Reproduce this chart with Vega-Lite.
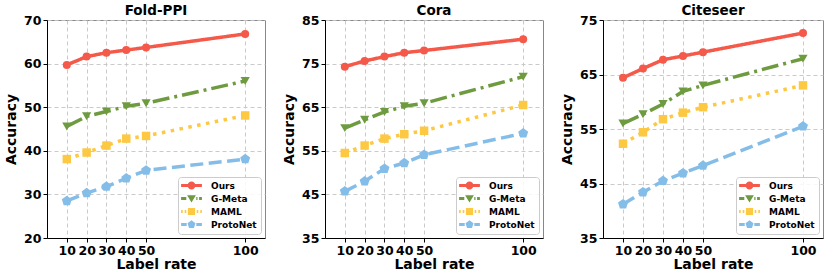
{
  "$schema": "https://vega.github.io/schema/vega-lite/v6.json",
  "background": "white",
  "padding": {"left": 4, "top": 3, "right": 4, "bottom": 2},
  "spacing": 60,
  "bounds": "flush",
  "config": {
    "font": "DejaVu Sans",
    "view": {"stroke": "#888888", "strokeWidth": 1},
    "axis": {
      "labelFont": "DejaVu Sans", "labelFontWeight": "bold", "labelFontSize": 12.5, "labelColor": "#000000",
      "titleFont": "DejaVu Sans", "titleFontWeight": "bold", "titleFontSize": 14, "titleColor": "#000000",
      "domainColor": "#000000", "tickColor": "#000000", "tickSize": 4, "labelPadding": 2,
      "grid": true, "gridDash": [4, 3], "gridColor": "#c4c4c4", "gridWidth": 0.9
    },
    "title": {"font": "DejaVu Sans", "fontSize": 13.5, "fontWeight": "bold", "color": "#000000", "offset": -3},
    "legend": {
      "orient": "bottom-right", "offset": 4, "title": null,
      "fillColor": "rgba(255,255,255,0.85)", "strokeColor": "#cccccc", "cornerRadius": 3, "padding": 4,
      "labelFont": "DejaVu Sans", "labelFontWeight": "bold", "labelFontSize": 9, "labelColor": "#000000",
      "symbolSize": 64, "rowPadding": 3, "symbolOffset": 5, "labelOffset": 15
    }
  },
  "datasets": {
    "acc": [
      {"dataset": "Fold-PPI", "series": "Ours", "rate": 10, "acc": 59.7},
      {"dataset": "Fold-PPI", "series": "Ours", "rate": 20, "acc": 61.6},
      {"dataset": "Fold-PPI", "series": "Ours", "rate": 30, "acc": 62.5},
      {"dataset": "Fold-PPI", "series": "Ours", "rate": 40, "acc": 63.1},
      {"dataset": "Fold-PPI", "series": "Ours", "rate": 50, "acc": 63.7},
      {"dataset": "Fold-PPI", "series": "Ours", "rate": 100, "acc": 66.8},
      {"dataset": "Fold-PPI", "series": "G-Meta", "rate": 10, "acc": 45.6},
      {"dataset": "Fold-PPI", "series": "G-Meta", "rate": 20, "acc": 47.9},
      {"dataset": "Fold-PPI", "series": "G-Meta", "rate": 30, "acc": 49.0},
      {"dataset": "Fold-PPI", "series": "G-Meta", "rate": 40, "acc": 50.2},
      {"dataset": "Fold-PPI", "series": "G-Meta", "rate": 50, "acc": 50.9},
      {"dataset": "Fold-PPI", "series": "G-Meta", "rate": 100, "acc": 56.0},
      {"dataset": "Fold-PPI", "series": "MAML", "rate": 10, "acc": 38.1},
      {"dataset": "Fold-PPI", "series": "MAML", "rate": 20, "acc": 39.6},
      {"dataset": "Fold-PPI", "series": "MAML", "rate": 30, "acc": 41.2},
      {"dataset": "Fold-PPI", "series": "MAML", "rate": 40, "acc": 42.8},
      {"dataset": "Fold-PPI", "series": "MAML", "rate": 50, "acc": 43.4},
      {"dataset": "Fold-PPI", "series": "MAML", "rate": 100, "acc": 48.1},
      {"dataset": "Fold-PPI", "series": "ProtoNet", "rate": 10, "acc": 28.5},
      {"dataset": "Fold-PPI", "series": "ProtoNet", "rate": 20, "acc": 30.3},
      {"dataset": "Fold-PPI", "series": "ProtoNet", "rate": 30, "acc": 31.8},
      {"dataset": "Fold-PPI", "series": "ProtoNet", "rate": 40, "acc": 33.7},
      {"dataset": "Fold-PPI", "series": "ProtoNet", "rate": 50, "acc": 35.5},
      {"dataset": "Fold-PPI", "series": "ProtoNet", "rate": 100, "acc": 38.1},
      {"dataset": "Cora", "series": "Ours", "rate": 10, "acc": 74.3},
      {"dataset": "Cora", "series": "Ours", "rate": 20, "acc": 75.6},
      {"dataset": "Cora", "series": "Ours", "rate": 30, "acc": 76.6},
      {"dataset": "Cora", "series": "Ours", "rate": 40, "acc": 77.5},
      {"dataset": "Cora", "series": "Ours", "rate": 50, "acc": 78.0},
      {"dataset": "Cora", "series": "Ours", "rate": 100, "acc": 80.6},
      {"dataset": "Cora", "series": "G-Meta", "rate": 10, "acc": 60.2},
      {"dataset": "Cora", "series": "G-Meta", "rate": 20, "acc": 62.1},
      {"dataset": "Cora", "series": "G-Meta", "rate": 30, "acc": 63.9},
      {"dataset": "Cora", "series": "G-Meta", "rate": 40, "acc": 65.2},
      {"dataset": "Cora", "series": "G-Meta", "rate": 50, "acc": 65.9},
      {"dataset": "Cora", "series": "G-Meta", "rate": 100, "acc": 72.0},
      {"dataset": "Cora", "series": "MAML", "rate": 10, "acc": 54.5},
      {"dataset": "Cora", "series": "MAML", "rate": 20, "acc": 56.2},
      {"dataset": "Cora", "series": "MAML", "rate": 30, "acc": 57.8},
      {"dataset": "Cora", "series": "MAML", "rate": 40, "acc": 58.8},
      {"dataset": "Cora", "series": "MAML", "rate": 50, "acc": 59.6},
      {"dataset": "Cora", "series": "MAML", "rate": 100, "acc": 65.5},
      {"dataset": "Cora", "series": "ProtoNet", "rate": 10, "acc": 45.7},
      {"dataset": "Cora", "series": "ProtoNet", "rate": 20, "acc": 48.0},
      {"dataset": "Cora", "series": "ProtoNet", "rate": 30, "acc": 50.9},
      {"dataset": "Cora", "series": "ProtoNet", "rate": 40, "acc": 52.2},
      {"dataset": "Cora", "series": "ProtoNet", "rate": 50, "acc": 54.1},
      {"dataset": "Cora", "series": "ProtoNet", "rate": 100, "acc": 59.0},
      {"dataset": "Citeseer", "series": "Ours", "rate": 10, "acc": 64.4},
      {"dataset": "Citeseer", "series": "Ours", "rate": 20, "acc": 66.1},
      {"dataset": "Citeseer", "series": "Ours", "rate": 30, "acc": 67.7},
      {"dataset": "Citeseer", "series": "Ours", "rate": 40, "acc": 68.4},
      {"dataset": "Citeseer", "series": "Ours", "rate": 50, "acc": 69.1},
      {"dataset": "Citeseer", "series": "Ours", "rate": 100, "acc": 72.6},
      {"dataset": "Citeseer", "series": "G-Meta", "rate": 10, "acc": 56.0},
      {"dataset": "Citeseer", "series": "G-Meta", "rate": 20, "acc": 57.7},
      {"dataset": "Citeseer", "series": "G-Meta", "rate": 30, "acc": 59.6},
      {"dataset": "Citeseer", "series": "G-Meta", "rate": 40, "acc": 61.9},
      {"dataset": "Citeseer", "series": "G-Meta", "rate": 50, "acc": 63.0},
      {"dataset": "Citeseer", "series": "G-Meta", "rate": 100, "acc": 67.9},
      {"dataset": "Citeseer", "series": "MAML", "rate": 10, "acc": 52.3},
      {"dataset": "Citeseer", "series": "MAML", "rate": 20, "acc": 54.4},
      {"dataset": "Citeseer", "series": "MAML", "rate": 30, "acc": 56.8},
      {"dataset": "Citeseer", "series": "MAML", "rate": 40, "acc": 58.0},
      {"dataset": "Citeseer", "series": "MAML", "rate": 50, "acc": 59.0},
      {"dataset": "Citeseer", "series": "MAML", "rate": 100, "acc": 63.0},
      {"dataset": "Citeseer", "series": "ProtoNet", "rate": 10, "acc": 41.2},
      {"dataset": "Citeseer", "series": "ProtoNet", "rate": 20, "acc": 43.4},
      {"dataset": "Citeseer", "series": "ProtoNet", "rate": 30, "acc": 45.5},
      {"dataset": "Citeseer", "series": "ProtoNet", "rate": 40, "acc": 46.9},
      {"dataset": "Citeseer", "series": "ProtoNet", "rate": 50, "acc": 48.3},
      {"dataset": "Citeseer", "series": "ProtoNet", "rate": 100, "acc": 55.5}
    ]
  },
  "data": {"name": "acc"},
  "resolve": {
    "scale": {"color": "independent", "strokeDash": "independent"},
    "legend": {"color": "independent", "strokeDash": "independent"}
  },
  "hconcat": [
    {
      "title": {"text": "Fold-PPI", "offset": -3},
      "width": 218, "height": 218,
      "transform": [{"filter": "datum.dataset === 'Fold-PPI'"}],
      "encoding": {
        "x": {"field": "rate", "type": "quantitative", "scale": {"domain": [0, 110], "nice": false}, "axis": {"values": [10, 20, 30, 40, 50, 100], "title": "Label rate", "titlePadding": 1}},
        "y": {"field": "acc", "type": "quantitative", "scale": {"domain": [20, 70], "nice": false}, "axis": {"values": [20, 30, 40, 50, 60, 70], "title": "Accuracy", "titlePadding": 5}}
      },
      "layer": [
        {
          "mark": {"type": "line", "strokeWidth": 3.5, "strokeCap": "butt"},
          "encoding": {
            "color": {"field": "series", "type": "nominal", "scale": {"domain": ["Ours", "G-Meta", "MAML", "ProtoNet"], "range": ["#F4594A", "#6E9B40", "#FDC842", "#85BDE9"]}, "legend": {
              "encode": {"symbols": {"update": {
                "shape": {"signal": "datum.value === 'Ours' ? 'M-2.6,-0.4H2.6V0.4H-2.6Z M-1,0A1,1 0 1,1 1,0A1,1 0 1,1 -1,0Z' : datum.value === 'G-Meta' ? 'M-2.6,-0.4H-1.3V0.4H-2.6Z M1.2,-0.4H1.5V0.4H1.2Z M1.9,-0.4H2.6V0.4H1.9Z M-1.1,-0.8L1.1,-0.8L0,1.0Z' : datum.value === 'MAML' ? 'M-2.6,-0.4H-2.2V0.4H-2.6Z M-1.7,-0.4H-1.3V0.4H-1.7Z M1.3,-0.4H1.7V0.4H1.3Z M2.2,-0.4H2.6V0.4H2.2Z M-0.9,-0.9H0.9V0.9H-0.9Z' : 'M-2.6,-0.4H-1.2V0.4H-2.6Z M1.2,-0.4H2.6V0.4H1.2Z M0,-1.05L1,-0.32L0.62,0.85L-0.62,0.85L-1,-0.32Z'"},
                "fill": {"signal": "datum.value === 'Ours' ? '#F4594A' : datum.value === 'G-Meta' ? '#6E9B40' : datum.value === 'MAML' ? '#FDC842' : '#85BDE9'"},
                "size": {"value": 64},
                "stroke": {"value": "transparent"}, "strokeWidth": {"value": 0}, "opacity": {"value": 1}
              }}}
            }},
            "strokeDash": {"field": "series", "type": "nominal", "scale": {"domain": ["Ours", "G-Meta", "MAML", "ProtoNet"], "range": [[1, 0], [17, 5, 3, 5], [3.5, 5.5], [13, 5.5]]}, "legend": null}
          }
        },
        {"transform": [{"filter": "datum.series === 'Ours'"}], "mark": {"type": "point", "filled": true, "opacity": 1, "shape": "circle", "size": 64, "color": "#F4594A"}},
        {"transform": [{"filter": "datum.series === 'G-Meta'"}], "mark": {"type": "point", "filled": true, "opacity": 1, "shape": "triangle-down", "size": 85, "color": "#6E9B40"}},
        {"transform": [{"filter": "datum.series === 'MAML'"}], "mark": {"type": "point", "filled": true, "opacity": 1, "shape": "square", "size": 72, "color": "#FDC842"}},
        {"transform": [{"filter": "datum.series === 'ProtoNet'"}], "mark": {"type": "point", "filled": true, "opacity": 1, "shape": "M0,-1L0.951,-0.309L0.588,0.809L-0.588,0.809L-0.951,-0.309Z", "size": 110, "color": "#85BDE9"}}
      ]
    },
    {
      "title": {"text": "Cora", "offset": -3},
      "width": 218, "height": 218,
      "transform": [{"filter": "datum.dataset === 'Cora'"}],
      "encoding": {
        "x": {"field": "rate", "type": "quantitative", "scale": {"domain": [0, 110], "nice": false}, "axis": {"values": [10, 20, 30, 40, 50, 100], "title": "Label rate", "titlePadding": 1}},
        "y": {"field": "acc", "type": "quantitative", "scale": {"domain": [35, 85], "nice": false}, "axis": {"values": [35, 45, 55, 65, 75, 85], "title": "Accuracy", "titlePadding": 5}}
      },
      "layer": [
        {
          "mark": {"type": "line", "strokeWidth": 3.5, "strokeCap": "butt"},
          "encoding": {
            "color": {"field": "series", "type": "nominal", "scale": {"domain": ["Ours", "G-Meta", "MAML", "ProtoNet"], "range": ["#F4594A", "#6E9B40", "#FDC842", "#85BDE9"]}, "legend": {
              "encode": {"symbols": {"update": {
                "shape": {"signal": "datum.value === 'Ours' ? 'M-2.6,-0.4H2.6V0.4H-2.6Z M-1,0A1,1 0 1,1 1,0A1,1 0 1,1 -1,0Z' : datum.value === 'G-Meta' ? 'M-2.6,-0.4H-1.3V0.4H-2.6Z M1.2,-0.4H1.5V0.4H1.2Z M1.9,-0.4H2.6V0.4H1.9Z M-1.1,-0.8L1.1,-0.8L0,1.0Z' : datum.value === 'MAML' ? 'M-2.6,-0.4H-2.2V0.4H-2.6Z M-1.7,-0.4H-1.3V0.4H-1.7Z M1.3,-0.4H1.7V0.4H1.3Z M2.2,-0.4H2.6V0.4H2.2Z M-0.9,-0.9H0.9V0.9H-0.9Z' : 'M-2.6,-0.4H-1.2V0.4H-2.6Z M1.2,-0.4H2.6V0.4H1.2Z M0,-1.05L1,-0.32L0.62,0.85L-0.62,0.85L-1,-0.32Z'"},
                "fill": {"signal": "datum.value === 'Ours' ? '#F4594A' : datum.value === 'G-Meta' ? '#6E9B40' : datum.value === 'MAML' ? '#FDC842' : '#85BDE9'"},
                "size": {"value": 64},
                "stroke": {"value": "transparent"}, "strokeWidth": {"value": 0}, "opacity": {"value": 1}
              }}}
            }},
            "strokeDash": {"field": "series", "type": "nominal", "scale": {"domain": ["Ours", "G-Meta", "MAML", "ProtoNet"], "range": [[1, 0], [17, 5, 3, 5], [3.5, 5.5], [13, 5.5]]}, "legend": null}
          }
        },
        {"transform": [{"filter": "datum.series === 'Ours'"}], "mark": {"type": "point", "filled": true, "opacity": 1, "shape": "circle", "size": 64, "color": "#F4594A"}},
        {"transform": [{"filter": "datum.series === 'G-Meta'"}], "mark": {"type": "point", "filled": true, "opacity": 1, "shape": "triangle-down", "size": 85, "color": "#6E9B40"}},
        {"transform": [{"filter": "datum.series === 'MAML'"}], "mark": {"type": "point", "filled": true, "opacity": 1, "shape": "square", "size": 72, "color": "#FDC842"}},
        {"transform": [{"filter": "datum.series === 'ProtoNet'"}], "mark": {"type": "point", "filled": true, "opacity": 1, "shape": "M0,-1L0.951,-0.309L0.588,0.809L-0.588,0.809L-0.951,-0.309Z", "size": 110, "color": "#85BDE9"}}
      ]
    },
    {
      "title": {"text": "Citeseer", "offset": -3},
      "width": 220, "height": 218,
      "transform": [{"filter": "datum.dataset === 'Citeseer'"}],
      "encoding": {
        "x": {"field": "rate", "type": "quantitative", "scale": {"domain": [0, 110], "nice": false}, "axis": {"values": [10, 20, 30, 40, 50, 100], "title": "Label rate", "titlePadding": 1}},
        "y": {"field": "acc", "type": "quantitative", "scale": {"domain": [35, 75], "nice": false}, "axis": {"values": [35, 45, 55, 65, 75], "title": "Accuracy", "titlePadding": 5}}
      },
      "layer": [
        {
          "mark": {"type": "line", "strokeWidth": 3.5, "strokeCap": "butt"},
          "encoding": {
            "color": {"field": "series", "type": "nominal", "scale": {"domain": ["Ours", "G-Meta", "MAML", "ProtoNet"], "range": ["#F4594A", "#6E9B40", "#FDC842", "#85BDE9"]}, "legend": {
              "encode": {"symbols": {"update": {
                "shape": {"signal": "datum.value === 'Ours' ? 'M-2.6,-0.4H2.6V0.4H-2.6Z M-1,0A1,1 0 1,1 1,0A1,1 0 1,1 -1,0Z' : datum.value === 'G-Meta' ? 'M-2.6,-0.4H-1.3V0.4H-2.6Z M1.2,-0.4H1.5V0.4H1.2Z M1.9,-0.4H2.6V0.4H1.9Z M-1.1,-0.8L1.1,-0.8L0,1.0Z' : datum.value === 'MAML' ? 'M-2.6,-0.4H-2.2V0.4H-2.6Z M-1.7,-0.4H-1.3V0.4H-1.7Z M1.3,-0.4H1.7V0.4H1.3Z M2.2,-0.4H2.6V0.4H2.2Z M-0.9,-0.9H0.9V0.9H-0.9Z' : 'M-2.6,-0.4H-1.2V0.4H-2.6Z M1.2,-0.4H2.6V0.4H1.2Z M0,-1.05L1,-0.32L0.62,0.85L-0.62,0.85L-1,-0.32Z'"},
                "fill": {"signal": "datum.value === 'Ours' ? '#F4594A' : datum.value === 'G-Meta' ? '#6E9B40' : datum.value === 'MAML' ? '#FDC842' : '#85BDE9'"},
                "size": {"value": 64},
                "stroke": {"value": "transparent"}, "strokeWidth": {"value": 0}, "opacity": {"value": 1}
              }}}
            }},
            "strokeDash": {"field": "series", "type": "nominal", "scale": {"domain": ["Ours", "G-Meta", "MAML", "ProtoNet"], "range": [[1, 0], [17, 5, 3, 5], [3.5, 5.5], [13, 5.5]]}, "legend": null}
          }
        },
        {"transform": [{"filter": "datum.series === 'Ours'"}], "mark": {"type": "point", "filled": true, "opacity": 1, "shape": "circle", "size": 64, "color": "#F4594A"}},
        {"transform": [{"filter": "datum.series === 'G-Meta'"}], "mark": {"type": "point", "filled": true, "opacity": 1, "shape": "triangle-down", "size": 85, "color": "#6E9B40"}},
        {"transform": [{"filter": "datum.series === 'MAML'"}], "mark": {"type": "point", "filled": true, "opacity": 1, "shape": "square", "size": 72, "color": "#FDC842"}},
        {"transform": [{"filter": "datum.series === 'ProtoNet'"}], "mark": {"type": "point", "filled": true, "opacity": 1, "shape": "M0,-1L0.951,-0.309L0.588,0.809L-0.588,0.809L-0.951,-0.309Z", "size": 110, "color": "#85BDE9"}}
      ]
    }
  ]
}
